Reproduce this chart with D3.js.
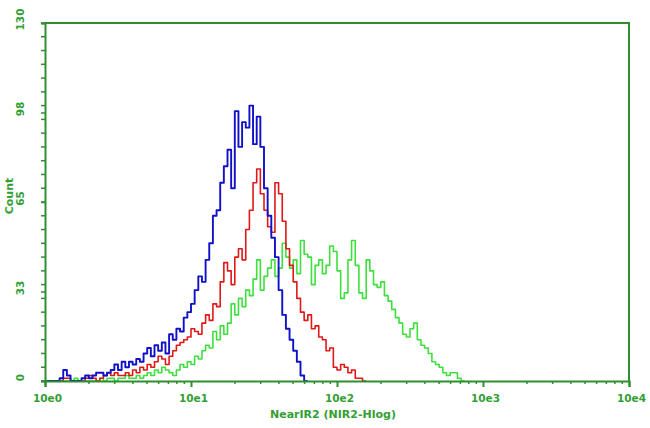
<!DOCTYPE html>
<html>
<head>
<meta charset="utf-8">
<script src="https://cdn.jsdelivr.net/npm/d3@7"></script>
<style>
  body { margin: 0; background: #fff; }
  svg { display: block; }
  .tick-label { font-family: 'DejaVu Sans', sans-serif; font-weight: bold; font-size: 10.5px; fill: #34a034; }
  .axis-title { font-family: 'DejaVu Sans', sans-serif; font-weight: bold; font-size: 11px; fill: #34a034; }
</style>
</head>
<body>
<div id="chart"></div>
<script>
// histogram channels: 40 per decade, channel i starts at 10^(i/40)
const channelsPerDecade = 40;

const blueCounts = [
  0, 0, 0, 0, 1, 4, 2, 0, 0, 0, 1, 2, 1, 2, 3, 3, 2, 3, 4, 6,
  4, 7, 5, 7, 6, 8, 7, 10, 12, 9, 13, 11, 14, 10, 17, 15, 19, 18, 23, 25,
  28, 33, 38, 36, 44, 50, 60, 62, 72, 78, 84, 70, 98, 85, 94, 92, 100, 86, 96, 85,
  70, 60, 52, 45, 33, 24, 19, 15, 11, 7, 2, 0
];

const redCounts = [
  0, 0, 0, 0, 0, 1, 1, 0, 0, 0, 0, 1, 2, 1, 0, 1, 2, 3, 2, 3,
  2, 2, 3, 2, 4, 3, 5, 4, 6, 5, 7, 9, 8, 6, 9, 11, 13, 14, 15, 16,
  19, 18, 17, 21, 24, 22, 28, 27, 36, 43, 40, 35, 45, 48, 44, 55, 62, 72, 77, 68,
  62, 56, 54, 72, 68, 58, 48, 42, 36, 30, 25, 22, 24, 19, 20, 16, 15, 11, 12, 5,
  4, 6, 5, 3, 4, 1, 1, 0
];

const greenCounts = [
  0, 0, 0, 0, 0, 0, 0, 0, 1, 0, 0, 0, 0, 0, 0, 1, 0, 1, 1, 0,
  1, 1, 2, 1, 1, 2, 1, 2, 3, 2, 4, 3, 5, 4, 3, 2, 4, 6, 5, 7,
  6, 9, 8, 11, 13, 12, 18, 15, 20, 17, 21, 28, 24, 30, 27, 33, 31, 37, 44, 33,
  38, 41, 44, 38, 41, 50, 45, 41, 44, 39, 51, 46, 45, 35, 42, 44, 39, 42, 49, 47,
  40, 30, 32, 44, 51, 42, 32, 30, 44, 40, 35, 34, 36, 31, 29, 26, 23, 21, 17, 16,
  19, 21, 15, 13, 12, 10, 7, 6, 5, 3, 2, 3, 3, 1, 0
];

const xTickValues = [1, 10, 100, 1000, 10000];
const xTickLabels = ['10e0', '10e1', '10e2', '10e3', '10e4'];
const yTickValues = [0, 32.5, 65, 97.5, 130];
const yTickLabels = ['0', '33', '65', '98', '130'];

const width = 650, height = 428;
const margin = { top: 23, right: 21, bottom: 47, left: 45 };
const axisColor = '#2f8f2f';

const svg = d3.select('#chart').append('svg')
  .attr('width', width)
  .attr('height', height);

const x = d3.scaleLog().domain([1, 10000]).range([margin.left, width - margin.right]);
const y = d3.scaleLinear().domain([0, 130]).range([height - margin.bottom, margin.top]);

// step lines for each histogram
function toPoints(counts) {
  const pts = counts.map((c, i) => [Math.pow(10, i / channelsPerDecade), c]);
  pts.push([Math.pow(10, counts.length / channelsPerDecade), counts[counts.length - 1]]);
  return pts;
}

const line = d3.line()
  .x(d => x(d[0]))
  .y(d => y(d[1]))
  .curve(d3.curveStepAfter);

const series = [
  { counts: greenCounts, color: '#3ee03e', w: 1.6 },
  { counts: redCounts, color: '#e01818', w: 1.6 },
  { counts: blueCounts, color: '#1010c8', w: 1.9 }
];

svg.append('g')
  .selectAll('path')
  .data(series)
  .join('path')
  .attr('fill', 'none')
  .attr('stroke', d => d.color)
  .attr('stroke-width', d => d.w)
  .attr('stroke-linejoin', 'round')
  .attr('d', d => line(toPoints(d.counts)));

// frame
const x0 = x.range()[0], x1 = x.range()[1];
const y0 = y.range()[0], y1 = y.range()[1];
svg.append('path')
  .attr('fill', 'none')
  .attr('stroke', axisColor)
  .attr('stroke-width', 2)
  .attr('d', `M${x0},${y1}H${x1}V${y0}`);

// x axis
const xAxis = d3.axisBottom(x)
  .tickValues(xTickValues)
  .tickSize(6)
  .tickFormat((d, i) => xTickLabels[i]);

const gx = svg.append('g')
  .attr('transform', `translate(0,${y0})`)
  .call(xAxis);

const minorX = [];
for (let dec = 1; dec < 10000; dec *= 10) {
  for (let k = 2; k <= 9; k++) minorX.push(dec * k);
}
gx.selectAll('.minor')
  .data(minorX)
  .join('line')
  .attr('class', 'minor')
  .attr('x1', d => x(d))
  .attr('x2', d => x(d))
  .attr('y1', 0)
  .attr('y2', 3)
  .attr('stroke', axisColor)
  .attr('stroke-width', 1.5);

gx.select('.domain').attr('stroke', axisColor).attr('stroke-width', 2);
gx.selectAll('.tick line').attr('stroke', axisColor).attr('stroke-width', 2);
gx.selectAll('.tick text')
  .attr('class', 'tick-label')
  .attr('y', 14)
  .attr('dx', 2);

// y axis
const yAxis = d3.axisLeft(y)
  .tickValues(yTickValues)
  .tickSize(4)
  .tickFormat((d, i) => yTickLabels[i]);

const gy = svg.append('g')
  .attr('transform', `translate(${x0},0)`)
  .call(yAxis);

gy.selectAll('.minor')
  .data(d3.range(0, 131, 5))
  .join('line')
  .attr('class', 'minor')
  .attr('x1', -4)
  .attr('x2', 0)
  .attr('y1', d => y(d))
  .attr('y2', d => y(d))
  .attr('stroke', axisColor)
  .attr('stroke-width', 1.5);

gy.select('.domain').attr('stroke', axisColor).attr('stroke-width', 2);
gy.selectAll('.tick line').attr('stroke', axisColor).attr('stroke-width', 1.5);
gy.selectAll('.tick text')
  .attr('class', 'tick-label')
  .attr('x', null)
  .attr('dy', null)
  .attr('text-anchor', 'middle')
  .attr('dominant-baseline', 'central')
  .attr('transform', d => `translate(${20 - x0},-4) rotate(-90)`);

// axis titles
svg.append('text')
  .attr('class', 'axis-title')
  .attr('x', 333)
  .attr('y', 418)
  .attr('text-anchor', 'middle')
  .text('NearIR2 (NIR2-Hlog)');

svg.append('text')
  .attr('class', 'axis-title')
  .attr('text-anchor', 'middle')
  .attr('dominant-baseline', 'central')
  .attr('transform', 'translate(9,196) rotate(-90)')
  .text('Count');
</script>
</body>
</html>
